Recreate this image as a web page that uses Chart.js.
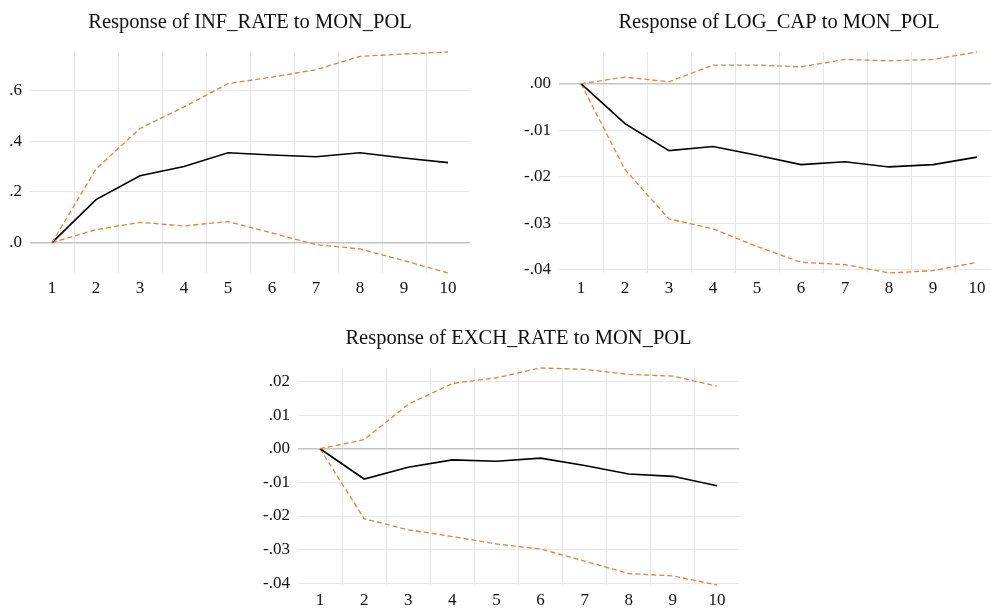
<!DOCTYPE html>
<html>
<head>
<meta charset="utf-8">
<script src="https://cdn.jsdelivr.net/npm/chart.js@4"></script>
<style>
  html, body { margin: 0; padding: 0; background: #fff; overflow: hidden; }
  body { width: 991px; height: 612px; position: relative; }
  .box { position: absolute; }
</style>
</head>
<body>
<div class="box" id="b1" style="left:0px;top:0px;width:480px;height:300px"><canvas id="c1"></canvas></div>
<div class="box" id="b2" style="left:518px;top:0px;width:492px;height:300px"><canvas id="c2"></canvas></div>
<div class="box" id="b3" style="left:257px;top:316px;width:492px;height:296px"><canvas id="c3"></canvas></div>
<script>
'use strict';
const periods = ['1', '2', '3', '4', '5', '6', '7', '8', '9', '10'];

// INF_RATE
const infMid = [0, 0.170, 0.264, 0.301, 0.355, 0.346, 0.339, 0.355, 0.334, 0.316];
const infUp = [0, 0.291, 0.451, 0.536, 0.628, 0.654, 0.683, 0.736, 0.745, 0.753];
const infLo = [0, 0.051, 0.080, 0.066, 0.083, 0.038, -0.008, -0.025, -0.071, -0.120];
const infTicks = [0, 0.2, 0.4, 0.6];

// LOG_CAP
const capMid = [0, -0.0086, -0.0144, -0.0135, -0.0154, -0.0174, -0.0168, -0.0179, -0.0174, -0.0158];
const capUp = [0, 0.0014, 0.0004, 0.0040, 0.0040, 0.0036, 0.0052, 0.0049, 0.0052, 0.0068];
const capLo = [0, -0.0185, -0.0291, -0.0312, -0.0350, -0.0384, -0.0389, -0.0407, -0.0402, -0.0384];
const capTicks = [-0.04, -0.03, -0.02, -0.01, 0];

// EXCH_RATE
const exMid = [0, -0.0090, -0.0055, -0.0033, -0.0037, -0.0028, -0.0050, -0.0075, -0.0082, -0.0110];
const exUp = [0, 0.0027, 0.0132, 0.0194, 0.0211, 0.0240, 0.0236, 0.0221, 0.0216, 0.0186];
const exLo = [0, -0.0208, -0.0241, -0.0261, -0.0283, -0.0298, -0.0334, -0.0371, -0.0378, -0.0405];
const exTicks = [-0.04, -0.03, -0.02, -0.01, 0, 0.01, 0.02];

const FONT = 'Liberation Serif, Times New Roman, serif';
const ORANGE = '#e0833a';

function fmt(v, dec) {
  let s = Math.abs(v).toFixed(dec).replace(/^0/, '');
  return (v < -1e-9 ? '-' : '') + s;
}

// title centred over the plot area, not the whole canvas
const plotTitle = {
  id: 'plotTitle',
  afterDraw(chart, args, opts) {
    const { ctx, chartArea } = chart;
    ctx.save();
    ctx.font = '20.5px ' + FONT;
    ctx.fillStyle = '#111';
    ctx.textAlign = 'center';
    ctx.textBaseline = 'middle';
    ctx.fillText(opts.text, (chartArea.left + chartArea.right) / 2, 23);
    ctx.restore();
  }
};

function makeChart(id, title, mid, up, lo, ticks, dec, yWidth, padRight) {
  const ctx = document.getElementById(id);
  return new Chart(ctx, {
    type: 'line',
    data: {
      labels: periods,
      datasets: [
        { data: up, borderColor: ORANGE, borderWidth: 1.3, borderDash: [5, 3], pointRadius: 0, tension: 0 },
        { data: mid, borderColor: '#000', borderWidth: 1.6, pointRadius: 0, tension: 0 },
        { data: lo, borderColor: ORANGE, borderWidth: 1.3, borderDash: [5, 3], pointRadius: 0, tension: 0 }
      ]
    },
    plugins: [plotTitle],
    options: {
      responsive: true,
      maintainAspectRatio: false,
      animation: false,
      clip: false,
      layout: { padding: { top: 52, right: padRight, bottom: 0, left: 0 } },
      plugins: {
        legend: { display: false },
        tooltip: { enabled: false },
        title: { display: false },
        plotTitle: { text: title }
      },
      scales: {
        x: {
          type: 'category',
          offset: true,
          border: { display: false },
          grid: {
            offset: true,
            drawTicks: false,
            // hide the two lines at the plot edges
            color: (c) => (c.type !== 'tick' || c.index === 0) ? 'rgba(0,0,0,0)' : '#e6e6e6',
            lineWidth: 1
          },
          ticks: { color: '#111', font: { family: FONT, size: 17 }, padding: 5, maxRotation: 0, autoSkip: false },
          afterFit: (s) => { s.height = 27; }
        },
        y: {
          bounds: 'data',
          border: { display: false },
          grid: {
            drawTicks: false,
            color: (c) => (c.tick && Math.abs(c.tick.value) < 1e-12) ? '#c4c4c4' : '#e8e8e8',
            lineWidth: (c) => (c.tick && Math.abs(c.tick.value) < 1e-12) ? 1.5 : 1
          },
          ticks: {
            color: '#111',
            font: { family: FONT, size: 17 },
            padding: 8,
            callback: (v) => fmt(v, dec)
          },
          afterBuildTicks: (s) => { s.ticks = ticks.map(v => ({ value: v })); },
          afterFit: (s) => { s.width = yWidth; }
        }
      }
    }
  });
}

makeChart('c1', 'Response of INF_RATE to MON_POL', infMid, infUp, infLo, infTicks, 1, 30, 10);
makeChart('c2', 'Response of LOG_CAP to MON_POL', capMid, capUp, capLo, capTicks, 2, 41, 11);
makeChart('c3', 'Response of EXCH_RATE to MON_POL', exMid, exUp, exLo, exTicks, 2, 41, 10);
</script>
</body>
</html>
